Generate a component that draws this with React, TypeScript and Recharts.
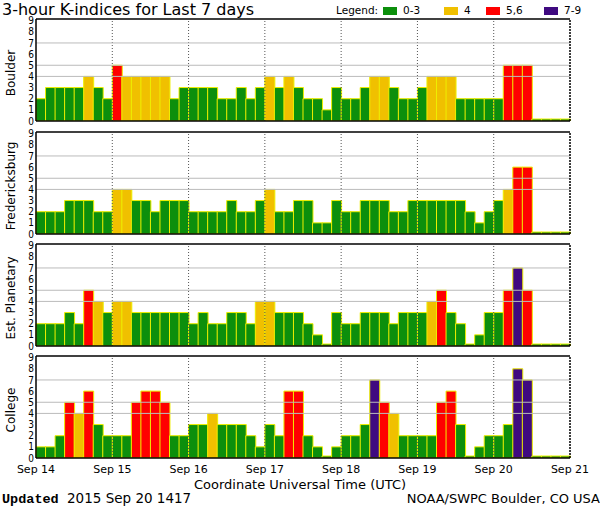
import React from 'react';
import { BarChart, Bar, XAxis, YAxis, Cell, ReferenceLine } from 'recharts';

const dayLabels = ['Sep 14', 'Sep 15', 'Sep 16', 'Sep 17', 'Sep 18', 'Sep 19', 'Sep 20', 'Sep 21'];
const dayTicks = [0, 1, 2, 3, 4, 5, 6, 7];
const yTicks = [0, 1, 2, 3, 4, 5, 6, 7, 8, 9];
const stations = ['Boulder', 'Fredericksburg', 'Est. Planetary', 'College'];

const boulder = [
  2, 3, 3, 3, 3, 4, 3, 2,
  5, 4, 4, 4, 4, 4, 2, 3,
  3, 3, 3, 2, 2, 3, 2, 3,
  4, 3, 4, 3, 2, 2, 1, 3,
  2, 2, 3, 4, 4, 3, 2, 2,
  3, 4, 4, 4, 2, 2, 2, 2,
  2, 5, 5, 5, 0, 0, 0, 0,
];
const fredericksburg = [
  2, 2, 2, 3, 3, 3, 2, 2,
  4, 4, 3, 3, 2, 3, 3, 3,
  2, 2, 2, 2, 3, 2, 2, 3,
  4, 2, 2, 3, 3, 1, 1, 3,
  2, 2, 3, 3, 3, 2, 2, 3,
  3, 3, 3, 3, 3, 2, 1, 2,
  3, 4, 6, 6, 0, 0, 0, 0,
];
const estPlanetary = [
  2, 2, 2, 3, 2, 5, 4, 3,
  4, 4, 3, 3, 3, 3, 3, 3,
  2, 3, 2, 2, 3, 3, 2, 4,
  4, 3, 3, 3, 2, 1, 0, 3,
  2, 2, 3, 3, 3, 2, 3, 3,
  3, 4, 5, 3, 2, 0, 1, 3,
  3, 5, 7, 5, 0, 0, 0, 0,
];
const college = [
  1, 1, 2, 5, 4, 6, 3, 2,
  2, 2, 5, 6, 6, 5, 2, 2,
  3, 3, 4, 3, 3, 3, 2, 1,
  3, 2, 6, 6, 2, 1, 0, 1,
  2, 2, 3, 7, 5, 4, 2, 2,
  2, 2, 5, 6, 3, 0, 1, 2,
  2, 3, 8, 7, 0, 0, 0, 0,
];
const seriesList = [boulder, fredericksburg, estPlanetary, college];
const panelTops = [19, 132, 244, 356];

const GREEN = '#0c8f0c';
const YELLOW = '#f0c000';
const RED = '#ff0000';
const PURPLE = '#3f0a80';
const legendItems = [
  { label: '0-3', color: GREEN, x: 383 },
  { label: '4', color: YELLOW, x: 444 },
  { label: '5,6', color: RED, x: 486 },
  { label: '7-9', color: PURPLE, x: 544 },
];

const colorFor = (k: number) => (k <= 3 ? GREEN : k === 4 ? YELLOW : k <= 6 ? RED : PURPLE);

const PLOT_H = 102;
const YMAX = 9.15;

function Panel({ values, top, showAxis }: { values: number[]; top: number; showAxis: boolean }) {
  const data = values.map((k, i) => ({ slot: i, day: i / 8, k }));
  const height = 5 + PLOT_H + (showAxis ? 24 : 5);
  return (
    <div style={{ position: 'absolute', left: 0, top: top - 5 }}>
      <BarChart
        width={600}
        height={height}
        data={data}
        margin={{ top: 5, right: 30, bottom: showAxis ? 0 : 5, left: 0 }}
        barCategoryGap={0}
        barGap={0}
      >
        <XAxis
          xAxisId="days"
          dataKey="day"
          type="number"
          domain={[0, 7]}
          ticks={dayTicks}
          interval={0}
          allowDataOverflow
          hide={!showAxis}
          height={24}
          axisLine={false}
          tickLine={false}
          tickSize={0}
          tickMargin={7}
          tickFormatter={(v: number) => dayLabels[v]}
          tick={{ fontSize: 11, fill: '#000', fontFamily: 'DejaVu Sans' }}
        />
        <XAxis xAxisId="cat" dataKey="slot" type="category" hide height={0} />
        <YAxis
          type="number"
          domain={[0, YMAX]}
          ticks={yTicks}
          interval={0}
          allowDataOverflow
          width={36}
          axisLine={false}
          tickLine={false}
          tickSize={0}
          tickMargin={2}
          tick={{ fontSize: 10, fill: '#000', fontFamily: "'DejaVu Sans Condensed', 'DejaVu Sans'" }}
        />
        <Bar
          xAxisId="cat"
          dataKey="k"
          isAnimationActive={false}
          stroke="#eeee00"
          strokeWidth={1}
          minPointSize={2}
        >
          {data.map((d, i) => (
            <Cell key={i} fill={colorFor(d.k)} />
          ))}
        </Bar>
        <ReferenceLine xAxisId="days" x={1} stroke="#555" strokeDasharray="1 2" />
        <ReferenceLine xAxisId="days" x={2} stroke="#555" strokeDasharray="1 2" />
        <ReferenceLine xAxisId="days" x={3} stroke="#555" strokeDasharray="1 2" />
        <ReferenceLine xAxisId="days" x={4} stroke="#555" strokeDasharray="1 2" />
        <ReferenceLine xAxisId="days" x={5} stroke="#555" strokeDasharray="1 2" />
        <ReferenceLine xAxisId="days" x={6} stroke="#555" strokeDasharray="1 2" />
        <ReferenceLine xAxisId="days" y={4} stroke="#bbb" />
        <ReferenceLine xAxisId="days" y={5} stroke="#bbb" />
        <ReferenceLine xAxisId="days" y={7} stroke="#bbb" />
        <ReferenceLine xAxisId="days" y={0} stroke="#000" strokeWidth={1.5} />
        <ReferenceLine xAxisId="days" y={YMAX} stroke="#000" strokeWidth={1.5} />
        <ReferenceLine xAxisId="days" x={0} stroke="#000" strokeWidth={1.5} />
        <ReferenceLine xAxisId="days" x={7} stroke="#000" strokeWidth={1.5} strokeDasharray="2 1" />
      </BarChart>
    </div>
  );
}

export default function App() {
  return (
    <div
      style={{
        position: 'absolute',
        left: 0,
        top: 0,
        width: 600,
        height: 510,
        background: '#fff',
        overflow: 'hidden',
        fontFamily: 'DejaVu Sans',
      }}
    >
      {seriesList.map((vals, i) => (
        <Panel key={i} values={vals} top={panelTops[i]} showAxis={i === seriesList.length - 1} />
      ))}
      <svg
        width={600}
        height={510}
        style={{ position: 'absolute', left: 0, top: 0, pointerEvents: 'none' }}
        fontFamily="DejaVu Sans"
      >
        <text x={2} y={15} fontSize={16} fill="#000">
          3-hour K-indices for Last 7 days
        </text>
        <text x={336} y={14} fontSize={10.5} fill="#000">
          Legend:
        </text>
        {legendItems.map((it) => (
          <g key={it.label}>
            <rect x={it.x} y={7} width={14} height={8} fill={it.color} />
            <text x={it.x + 20} y={14} fontSize={10.5} fill="#000">
              {it.label}
            </text>
          </g>
        ))}
        {stations.map((s, i) => {
          const cy = panelTops[i] + PLOT_H / 2 + 3;
          return (
            <text
              key={s}
              x={15}
              y={cy}
              fontSize={12}
              textAnchor="middle"
              transform={`rotate(-90 15 ${cy})`}
              fill="#000"
            >
              {s}
            </text>
          );
        })}
        <text x={300} y={489} fontSize={13} textAnchor="middle" fill="#000">
          Coordinate Universal Time (UTC)
        </text>
        <text x={2} y={503} fill="#000">
          <tspan fontFamily="'Liberation Mono', 'DejaVu Sans Mono'" fontWeight="bold" fontSize={13.5}>
            Updated
          </tspan>
          <tspan x={67} fontSize={13.5}>
            2015 Sep 20 1417
          </tspan>
        </text>
        <text x={600} y={503} fontSize={13} textAnchor="end" fill="#000">
          NOAA/SWPC Boulder, CO USA
        </text>
      </svg>
    </div>
  );
}
